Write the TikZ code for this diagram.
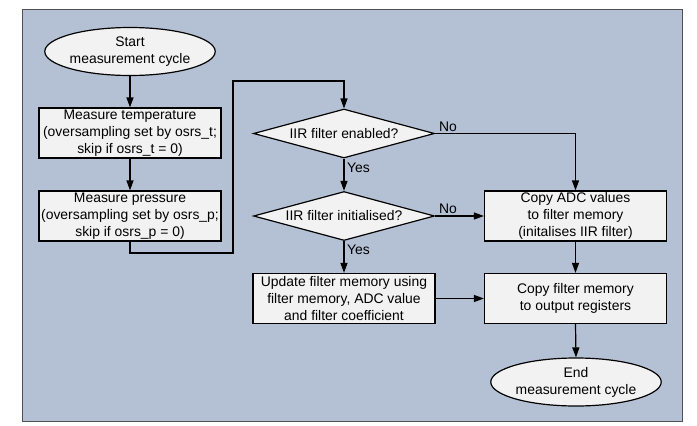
\documentclass[tikz,border=0pt]{standalone}
\usepackage{fontspec}
\setmainfont{Liberation Sans}
\usetikzlibrary{shapes.geometric,arrows.meta}
\definecolor{panel}{RGB}{180,192,211}
\definecolor{boxfill}{RGB}{242,242,242}
\definecolor{frame}{RGB}{80,80,80}
\begin{document}
\begin{tikzpicture}[x=1pt,y=-1pt,
  font=\fontsize{13.9}{17}\selectfont,
  every node/.style={inner sep=0pt, align=center},
  proc/.style={draw, line width=1.2pt, fill=boxfill, minimum width=182pt, minimum height=50pt},
  term/.style={ellipse, draw, line width=1.2pt, fill=boxfill, minimum width=149pt, minimum height=48pt},
  decision/.style={diamond, draw, line width=1.2pt, fill=boxfill, minimum width=181pt, minimum height=49pt},
  flow/.style={line width=1.2pt, -{Triangle[length=10pt,width=7pt]}},
  lbl/.style={anchor=west}]
  \useasboundingbox (0,0) rectangle (697,426);
  % panel behind the chart
  \fill[panel, draw=frame, line width=0.9pt] (22,9) rectangle (682,421);

  % left column
  \node[term] (start) at (130,51.5) {Start\\measurement cycle};
  \node[proc] (temp) at (130,133) {Measure temperature\\(oversampling set by osrs\_t;\\skip if osrs\_t = 0)};
  \node[proc] (press) at (130,216) {Measure pressure\\(oversampling set by osrs\_p;\\skip if osrs\_p = 0)};

  % middle column
  \node[decision] (d1) at (344,133.5) {\makebox[0pt]{IIR filter enabled?}};
  \node[decision] (d2) at (344,216) {\makebox[0pt]{IIR filter initialised?}};
  \node[proc] (upd) at (344,298.5) {Update filter memory using\\filter memory, ADC value\\and filter coefficient};

  % right column
  \node[proc] (adc) at (575.5,216) {Copy ADC values\\to filter memory\\(initalises IIR filter)};
  \node[proc] (copy) at (575.5,298.5) {Copy filter memory\\to output registers};
  \node[term] (end) at (576,382) {End\\measurement cycle};

  % route from pressure measurement up to the first decision
  \coordinate (r1) at (233,253);
  \coordinate (r2) at (233,81);

  \draw[flow] (start) -- (temp);
  \draw[flow] (temp) -- (press);
  \draw[flow] (press.south) -- (press.south |- r1) -- (r1) -- (r2) -- (r2 -| d1.north) -- (d1.north);
  \draw[flow] (d1.south) -- (d2.north);
  \draw[flow] (d2.south) -- (upd.north);
  \draw[flow] (d1.east) -| (adc.north);
  \draw[flow] (d2.east) -- (adc.west);
  \draw[flow] (upd.east) -- (copy.west);
  \draw[flow] (adc.south) -- (copy.north);
  \draw[flow] (copy.south) -- (end.north);

  % branch labels
  \node[lbl] (no1) at (439,127) {No};
  \node[lbl] (no2) at (439,209) {No};
  \node[lbl] (yes1) at (347,168) {Yes};
  \node[lbl] (yes2) at (347,250) {Yes};
\end{tikzpicture}
\end{document}
